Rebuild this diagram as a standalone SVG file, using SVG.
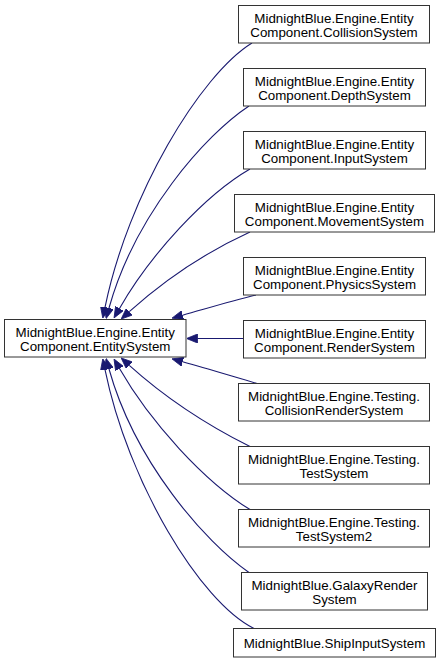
<svg xmlns="http://www.w3.org/2000/svg" width="442" height="663" viewBox="0 0 442 663">
<style>
.n rect{fill:#ffffff;stroke:#333333;stroke-width:1}
.n text{font-family:"Liberation Sans",Arial,sans-serif;font-size:13.33px;fill:#000000;text-anchor:middle}
.e path{fill:none;stroke:#191970;stroke-width:1.1}
</style>
<defs>
<marker id="a" markerUnits="userSpaceOnUse" markerWidth="11" markerHeight="9" viewBox="0 0 11 9" refX="0" refY="4.5" orient="auto">
<path d="M0,0 L11,4.5 L0,9 z" fill="#191970" stroke="#191970" stroke-width="0.8"/>
</marker>
</defs>
<rect width="442" height="663" fill="#ffffff"/>
<g id="connectors" class="e">
<path d="M252,43 C200,75 128,195 105,307.4" marker-end="url(#a)"/>
<path d="M249,106 C205,135 135,215 109,308" marker-end="url(#a)"/>
<path d="M250,169 C205,195 150,255 119.5,308.4" marker-end="url(#a)"/>
<path d="M250,232 C215,248 170,275 129.3,311.7" marker-end="url(#a)"/>
<path d="M256,295 C228,302 205,309 182.6,315.2" marker-end="url(#a)"/>
<path d="M243.5,338.5 L197.5,338.5" marker-end="url(#a)"/>
<path d="M257,383.5 C228,375 205,368 182.6,361.8" marker-end="url(#a)"/>
<path d="M250,446.5 C215,429 170,402 129.3,365.3" marker-end="url(#a)"/>
<path d="M250,509.5 C205,482 150,422 119.5,368.6" marker-end="url(#a)"/>
<path d="M249,572.5 C205,542 135,462 109,369" marker-end="url(#a)"/>
<path d="M254,628.5 C200,602 128,482 105,369.6" marker-end="url(#a)"/>
</g>
<g id="EntitySystem" class="n"><rect x="4.5" y="319.5" width="181.5" height="37.5"/><text x="95.25" y="336.5">MidnightBlue.Engine.Entity</text><text x="95.25" y="350.5">Component.EntitySystem</text></g>
<g id="CollisionSystem" class="n"><rect x="238.5" y="5.5" width="191" height="37.5"/><text x="334" y="22.5">MidnightBlue.Engine.Entity</text><text x="334" y="36.5">Component.CollisionSystem</text></g>
<g id="DepthSystem" class="n"><rect x="243.5" y="68.5" width="182" height="37.5"/><text x="334.5" y="85.5">MidnightBlue.Engine.Entity</text><text x="334.5" y="99.5">Component.DepthSystem</text></g>
<g id="InputSystem" class="n"><rect x="243.5" y="131.5" width="182" height="37.5"/><text x="334.5" y="148.5">MidnightBlue.Engine.Entity</text><text x="334.5" y="162.5">Component.InputSystem</text></g>
<g id="MovementSystem" class="n"><rect x="234.5" y="194.5" width="200" height="37.5"/><text x="334.5" y="211.5">MidnightBlue.Engine.Entity</text><text x="334.5" y="225.5">Component.MovementSystem</text></g>
<g id="PhysicsSystem" class="n"><rect x="243.5" y="257.5" width="182" height="37.5"/><text x="334.5" y="274.5">MidnightBlue.Engine.Entity</text><text x="334.5" y="288.5">Component.PhysicsSystem</text></g>
<g id="RenderSystem" class="n"><rect x="243.5" y="320.5" width="182" height="37.5"/><text x="334.5" y="337.5">MidnightBlue.Engine.Entity</text><text x="334.5" y="351.5">Component.RenderSystem</text></g>
<g id="CollisionRenderSystem" class="n"><rect x="238.5" y="383.5" width="191" height="37.5"/><text x="334" y="400.5">MidnightBlue.Engine.Testing.</text><text x="334" y="414.5">CollisionRenderSystem</text></g>
<g id="TestSystem" class="n"><rect x="238.5" y="446.5" width="191" height="37.5"/><text x="334" y="463.5">MidnightBlue.Engine.Testing.</text><text x="334" y="477.5">TestSystem</text></g>
<g id="TestSystem2" class="n"><rect x="238.5" y="509.5" width="191" height="37.5"/><text x="334" y="526.5">MidnightBlue.Engine.Testing.</text><text x="334" y="540.5">TestSystem2</text></g>
<g id="GalaxyRenderSystem" class="n"><rect x="241.5" y="572.5" width="186" height="37.5"/><text x="334.5" y="589.5">MidnightBlue.GalaxyRender</text><text x="334.5" y="603.5">System</text></g>
<g id="ShipInputSystem" class="n"><rect x="233.5" y="628.5" width="202" height="28.5"/><text x="334.5" y="647.5">MidnightBlue.ShipInputSystem</text></g>
</svg>
